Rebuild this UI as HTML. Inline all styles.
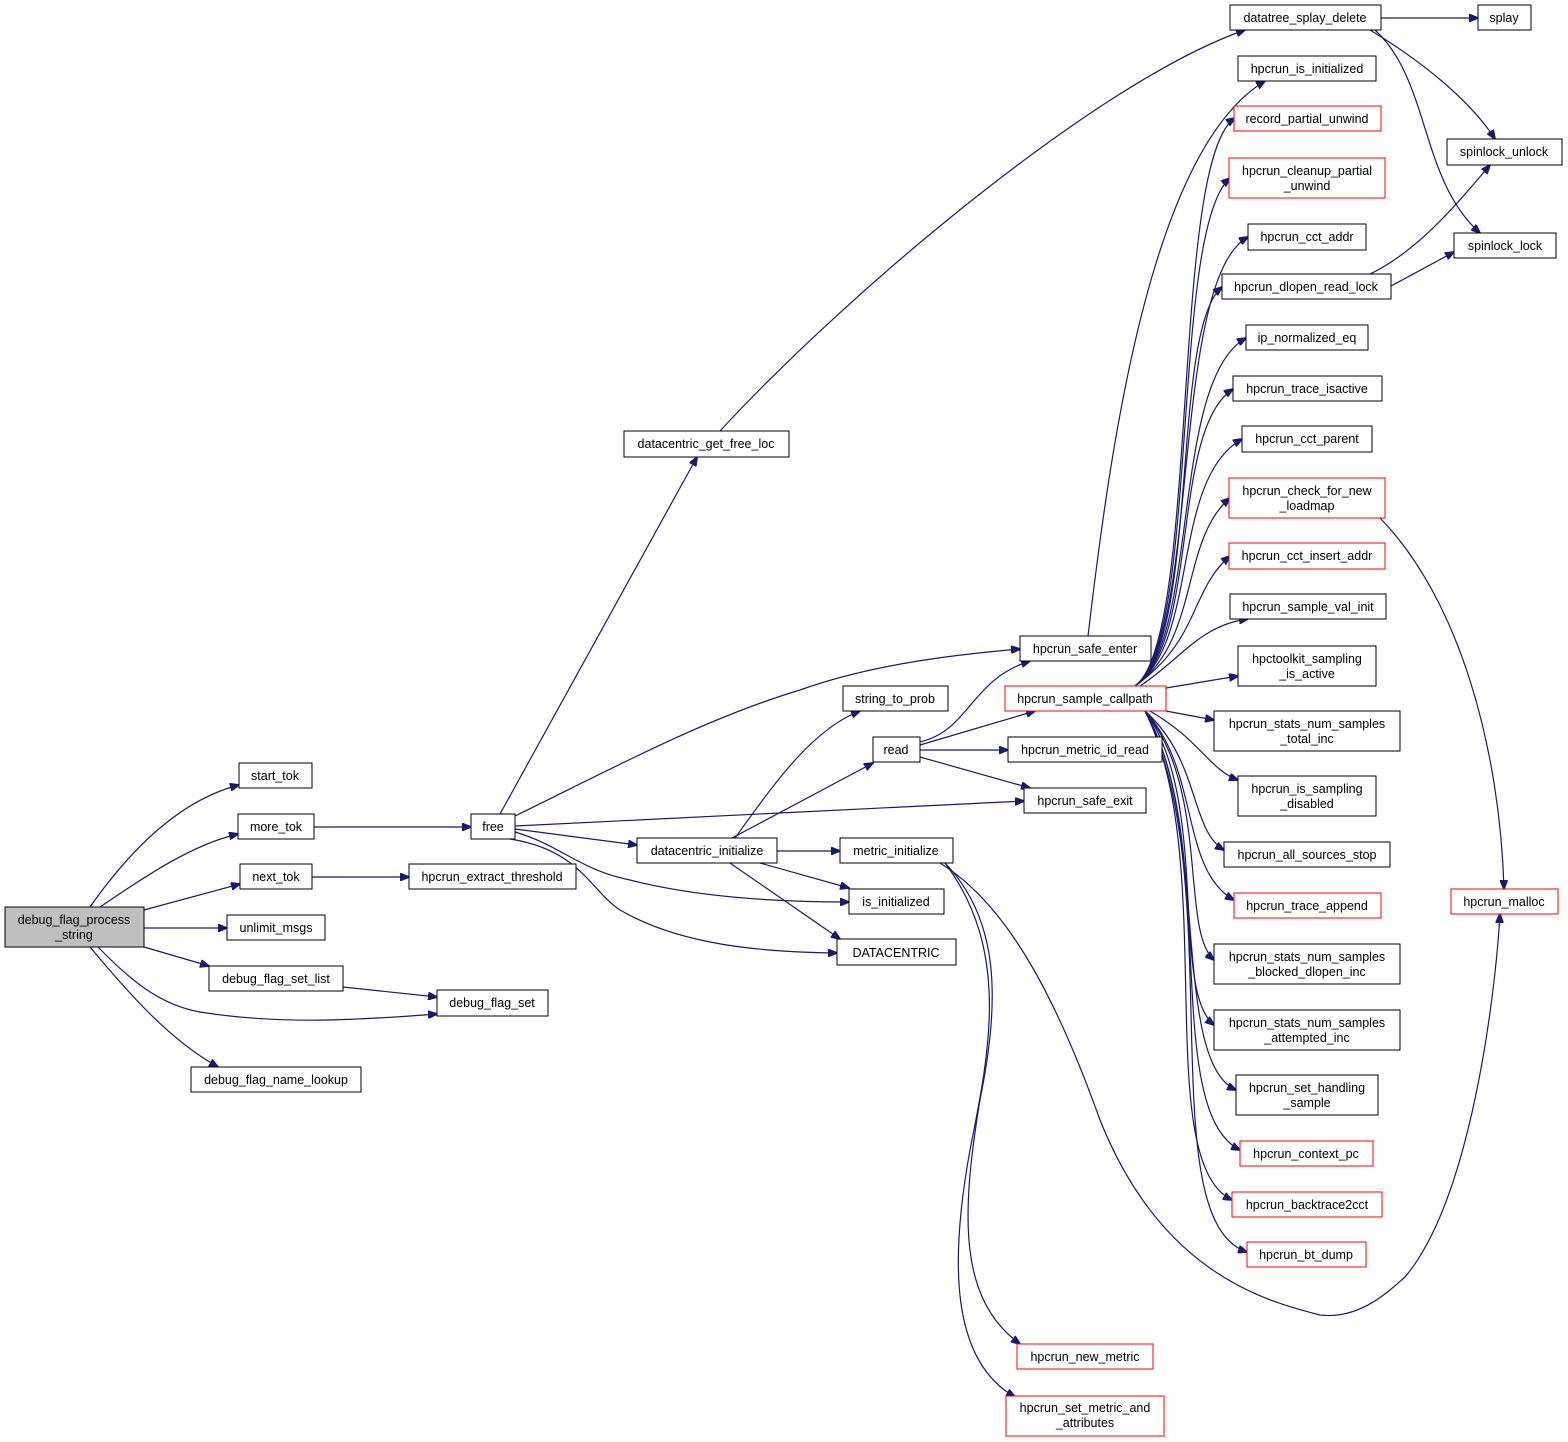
<!DOCTYPE html>
<html><head><meta charset="utf-8"><style>
html,body{margin:0;padding:0;background:#fff}
svg{display:block}
text{font-family:"Liberation Sans",sans-serif;font-size:12.5px;fill:#000}
.e{fill:none;stroke:#191970;stroke-width:1.2}
</style></head><body>
<svg width="1568" height="1442" viewBox="0 0 1568 1442" xmlns="http://www.w3.org/2000/svg">
<defs><marker id="a" markerWidth="10" markerHeight="8" refX="9" refY="4" orient="auto" markerUnits="userSpaceOnUse"><path d="M0,0 L10,4 L0,8 z" fill="#191970" stroke="#191970"/></marker></defs>
<g class="e" marker-end="url(#a)">
<path d="M90,907 C130,850 180,800 239,785"/>
<path d="M100,907 C140,880 190,845 238,834"/>
<path d="M144,910 L240,884"/>
<path d="M144,928 L227,928"/>
<path d="M144,947 L209,966"/>
<path d="M98,947 C130,980 160,1005 200,1012 C280,1025 360,1020 437,1014"/>
<path d="M90,947 C130,995 170,1040 218,1067"/>
<path d="M343,987 L437,997"/>
<path d="M314,827 L471,827"/>
<path d="M312,877 L409,877"/>
<path d="M500,814 L697,457"/>
<path d="M515,816 C600,775 700,720 800,690 C870,665 950,655 1020,649"/>
<path d="M515,826 L1024,801"/>
<path d="M515,829 L637,845"/>
<path d="M515,832 C560,845 580,870 630,880 C700,898 780,902 849,902"/>
<path d="M510,839 C580,850 590,890 620,910 C680,945 760,952 837,953"/>
<path d="M720,431 C850,290 1100,80 1245,30"/>
<path d="M735,838 C770,790 810,730 860,711"/>
<path d="M732,838 L873,763"/>
<path d="M777,851 L840,851"/>
<path d="M760,863 L849,888"/>
<path d="M730,863 L840,939"/>
<path d="M920,742 C970,730 970,680 1030,661"/>
<path d="M920,745 L1035,711"/>
<path d="M920,750 L1008,750"/>
<path d="M920,757 L1030,788"/>
<path d="M940,863 C1000,900 1050,980 1100,1120 C1160,1270 1260,1300 1320,1315 C1360,1320 1390,1290 1405,1277 C1470,1200 1495,1000 1500,914"/>
<path d="M945,863 C1000,920 1000,1000 980,1100 C960,1220 960,1300 1020,1344"/>
<path d="M945,863 C1010,950 990,1050 970,1150 C950,1260 950,1360 1015,1397"/>
<path d="M1088,636 C1110,450 1150,150 1265,81"/>
<path d="M1135,686 C1200,640 1170,160 1235,118"/>
<path d="M1135,686 C1200,640 1170,230 1230,178"/>
<path d="M1135,686 C1200,640 1170,280 1248,237"/>
<path d="M1135,686 C1200,640 1170,330 1222,287"/>
<path d="M1135,686 C1200,640 1170,380 1246,338"/>
<path d="M1135,686 C1200,640 1170,430 1233,389"/>
<path d="M1135,686 C1200,640 1170,480 1242,439"/>
<path d="M1135,686 C1200,640 1180,540 1230,498"/>
<path d="M1135,686 C1200,640 1190,590 1230,556"/>
<path d="M1140,686 C1180,660 1200,625 1248,619"/>
<path d="M1166,688 L1238,676"/>
<path d="M1166,711 L1214,720"/>
<path d="M1150,711 C1200,740 1210,770 1238,780"/>
<path d="M1145,711 C1200,760 1190,830 1224,850"/>
<path d="M1145,711 C1200,770 1180,870 1234,900"/>
<path d="M1145,711 C1210,790 1180,930 1214,960"/>
<path d="M1145,711 C1210,800 1170,990 1214,1025"/>
<path d="M1145,711 C1210,820 1170,1060 1236,1090"/>
<path d="M1145,711 C1220,840 1160,1110 1240,1150"/>
<path d="M1145,711 C1220,860 1150,1160 1232,1200"/>
<path d="M1145,711 C1230,880 1150,1220 1247,1252"/>
<path d="M1370,274 C1420,250 1460,200 1490,165"/>
<path d="M1391,286 L1454,252"/>
<path d="M1381,18 L1478,18"/>
<path d="M1370,30 C1420,60 1470,100 1495,139"/>
<path d="M1375,30 C1430,80 1420,180 1480,233"/>
<path d="M1380,518 C1460,600 1500,750 1504,889"/>
</g>
<g fill="#fff" stroke="#000" stroke-width="1">
<rect x="5" y="907" width="139" height="40" fill="#bfbfbf"/>
<rect x="239" y="763" width="73" height="25"/>
<rect x="238" y="814" width="76" height="25"/>
<rect x="240" y="864" width="72" height="25"/>
<rect x="227" y="915" width="98" height="25"/>
<rect x="209" y="966" width="134" height="25"/>
<rect x="191" y="1067" width="170" height="25"/>
<rect x="437" y="990" width="111" height="26"/>
<rect x="409" y="864" width="167" height="25"/>
<rect x="471" y="814" width="44" height="25"/>
<rect x="624" y="431" width="165" height="26"/>
<rect x="637" y="838" width="140" height="25"/>
<rect x="843" y="686" width="105" height="25"/>
<rect x="873" y="737" width="47" height="25"/>
<rect x="840" y="838" width="113" height="25"/>
<rect x="849" y="889" width="95" height="25"/>
<rect x="837" y="939" width="119" height="26"/>
<rect x="1020" y="636" width="131" height="25"/>
<rect x="1005" y="686" width="161" height="25" stroke="#f00"/>
<rect x="1008" y="737" width="154" height="25"/>
<rect x="1024" y="788" width="122" height="25"/>
<rect x="1017" y="1344" width="136" height="25" stroke="#f00"/>
<rect x="1006" y="1396" width="158" height="40" stroke="#f00"/>
<rect x="1230" y="5" width="151" height="25"/>
<rect x="1238" y="56" width="138" height="25"/>
<rect x="1234" y="106" width="147" height="25" stroke="#f00"/>
<rect x="1229" y="158" width="156" height="40" stroke="#f00"/>
<rect x="1248" y="224" width="118" height="26"/>
<rect x="1222" y="274" width="169" height="25"/>
<rect x="1246" y="325" width="122" height="25"/>
<rect x="1233" y="376" width="149" height="25"/>
<rect x="1242" y="426" width="130" height="26"/>
<rect x="1229" y="478" width="156" height="40" stroke="#f00"/>
<rect x="1229" y="543" width="156" height="26" stroke="#f00"/>
<rect x="1230" y="594" width="156" height="25"/>
<rect x="1238" y="646" width="138" height="40"/>
<rect x="1214" y="711" width="186" height="40"/>
<rect x="1238" y="776" width="138" height="40"/>
<rect x="1224" y="842" width="166" height="25"/>
<rect x="1234" y="893" width="147" height="25" stroke="#f00"/>
<rect x="1214" y="944" width="186" height="40"/>
<rect x="1214" y="1010" width="186" height="40"/>
<rect x="1236" y="1075" width="142" height="40"/>
<rect x="1240" y="1141" width="133" height="25" stroke="#f00"/>
<rect x="1232" y="1192" width="150" height="25" stroke="#f00"/>
<rect x="1247" y="1242" width="119" height="25" stroke="#f00"/>
<rect x="1478" y="5" width="53" height="25"/>
<rect x="1447" y="139" width="115" height="26"/>
<rect x="1454" y="233" width="102" height="25"/>
<rect x="1451" y="889" width="107" height="25" stroke="#f00"/>
</g>
<g text-anchor="middle">
<text x="74" y="924">debug_flag_process</text><text x="74" y="939">_string</text>
<text x="275" y="780">start_tok</text>
<text x="276" y="831">more_tok</text>
<text x="276" y="881">next_tok</text>
<text x="276" y="932">unlimit_msgs</text>
<text x="276" y="983">debug_flag_set_list</text>
<text x="276" y="1084">debug_flag_name_lookup</text>
<text x="492" y="1007">debug_flag_set</text>
<text x="492" y="881">hpcrun_extract_threshold</text>
<text x="493" y="831">free</text>
<text x="706" y="448">datacentric_get_free_loc</text>
<text x="707" y="855">datacentric_initialize</text>
<text x="895" y="703">string_to_prob</text>
<text x="896" y="754">read</text>
<text x="896" y="855">metric_initialize</text>
<text x="896" y="906">is_initialized</text>
<text x="896" y="957">DATACENTRIC</text>
<text x="1085" y="653">hpcrun_safe_enter</text>
<text x="1085" y="703">hpcrun_sample_callpath</text>
<text x="1085" y="754">hpcrun_metric_id_read</text>
<text x="1085" y="805">hpcrun_safe_exit</text>
<text x="1085" y="1361">hpcrun_new_metric</text>
<text x="1085" y="1412">hpcrun_set_metric_and</text><text x="1085" y="1427">_attributes</text>
<text x="1305" y="22">datatree_splay_delete</text>
<text x="1307" y="73">hpcrun_is_initialized</text>
<text x="1307" y="123">record_partial_unwind</text>
<text x="1307" y="175">hpcrun_cleanup_partial</text><text x="1307" y="190">_unwind</text>
<text x="1307" y="241">hpcrun_cct_addr</text>
<text x="1306" y="291">hpcrun_dlopen_read_lock</text>
<text x="1307" y="342">ip_normalized_eq</text>
<text x="1307" y="393">hpcrun_trace_isactive</text>
<text x="1307" y="443">hpcrun_cct_parent</text>
<text x="1307" y="495">hpcrun_check_for_new</text><text x="1307" y="510">_loadmap</text>
<text x="1307" y="560">hpcrun_cct_insert_addr</text>
<text x="1308" y="611">hpcrun_sample_val_init</text>
<text x="1307" y="663">hpctoolkit_sampling</text><text x="1307" y="678">_is_active</text>
<text x="1307" y="728">hpcrun_stats_num_samples</text><text x="1307" y="743">_total_inc</text>
<text x="1307" y="793">hpcrun_is_sampling</text><text x="1307" y="808">_disabled</text>
<text x="1307" y="859">hpcrun_all_sources_stop</text>
<text x="1307" y="910">hpcrun_trace_append</text>
<text x="1307" y="961">hpcrun_stats_num_samples</text><text x="1307" y="976">_blocked_dlopen_inc</text>
<text x="1307" y="1027">hpcrun_stats_num_samples</text><text x="1307" y="1042">_attempted_inc</text>
<text x="1307" y="1092">hpcrun_set_handling</text><text x="1307" y="1107">_sample</text>
<text x="1306" y="1158">hpcrun_context_pc</text>
<text x="1307" y="1209">hpcrun_backtrace2cct</text>
<text x="1306" y="1259">hpcrun_bt_dump</text>
<text x="1504" y="22">splay</text>
<text x="1504" y="156">spinlock_unlock</text>
<text x="1505" y="250">spinlock_lock</text>
<text x="1504" y="906">hpcrun_malloc</text>
</g>
</svg>
</body></html>
